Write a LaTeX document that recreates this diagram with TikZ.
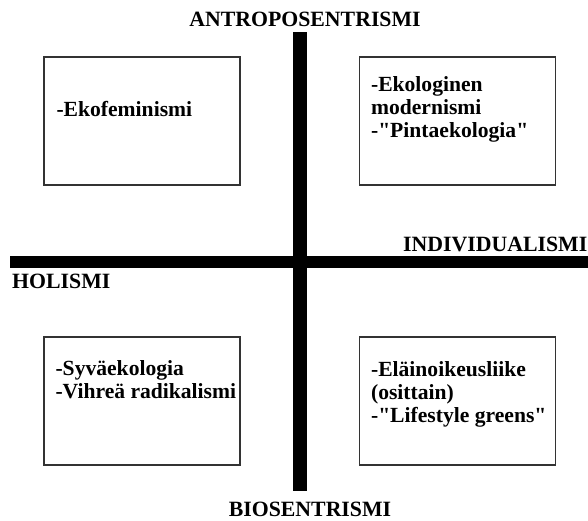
\documentclass[tikz,border=0pt]{standalone}
\usepackage{fontspec}
\setmainfont{Liberation Serif}
\usetikzlibrary{positioning}

\tikzset{
  quadbox/.style={draw=black!80,line width=1.3pt,minimum width=196pt,minimum height=128pt,inner sep=0pt},
  axislabel/.style={font=\fontsize{21.8}{23}\selectfont\bfseries,inner sep=0pt},
  boxtext/.style={font=\fontsize{21.6}{23}\selectfont\bfseries,align=left,inner sep=0pt,anchor=base west},
  axisbar/.style={line width=14pt}
}

\begin{document}
\begin{tikzpicture}[x=1pt,y=-1pt]
\useasboundingbox (0,0) rectangle (588,520);
% axes
\coordinate (top) at (300,32);
\coordinate (bottom) at (300,491);
\coordinate (left) at (10,262);
\coordinate (right) at (588,262);
\draw[axisbar] (top) -- (bottom);
\draw[axisbar,line width=12pt] (left) -- (right);

\node[axislabel,anchor=base] (antro) at (305,26) {ANTROPOSENTRISMI};
\node[axislabel,anchor=base] (bio) at (310,516) {BIOSENTRISMI};
\node[axislabel,anchor=base west] (holi) at (12,288) {HOLISMI};
\node[axislabel,anchor=base east] (indi) at (587.5,251) {INDIVIDUALISMI};

% quadrants
\node[quadbox] (tl) at (142,121) {};
\node[quadbox] (tr) at (457.5,121) {};
\node[quadbox] (bl) at (142,401) {};
\node[quadbox] (br) at (457.5,401) {};

% base anchor sits on the last line
\node[boxtext] (tltext) at ([shift={(13,60)}]tl.north west) {-Ekofeminismi};
\node[boxtext] (trtext) at ([shift={(12,81)}]tr.north west) {-Ekologinen\\modernismi\\-\textquotedbl Pintaekologia\textquotedbl};
\node[boxtext] (bltext) at ([shift={(12,62)}]bl.north west) {-Syväekologia\\-Vihreä radikalismi};
\node[boxtext] (brtext) at ([shift={(12,86)}]br.north west) {-Eläinoikeusliike\\(osittain)\\-\textquotedbl Lifestyle greens\textquotedbl};
\end{tikzpicture}
\end{document}
